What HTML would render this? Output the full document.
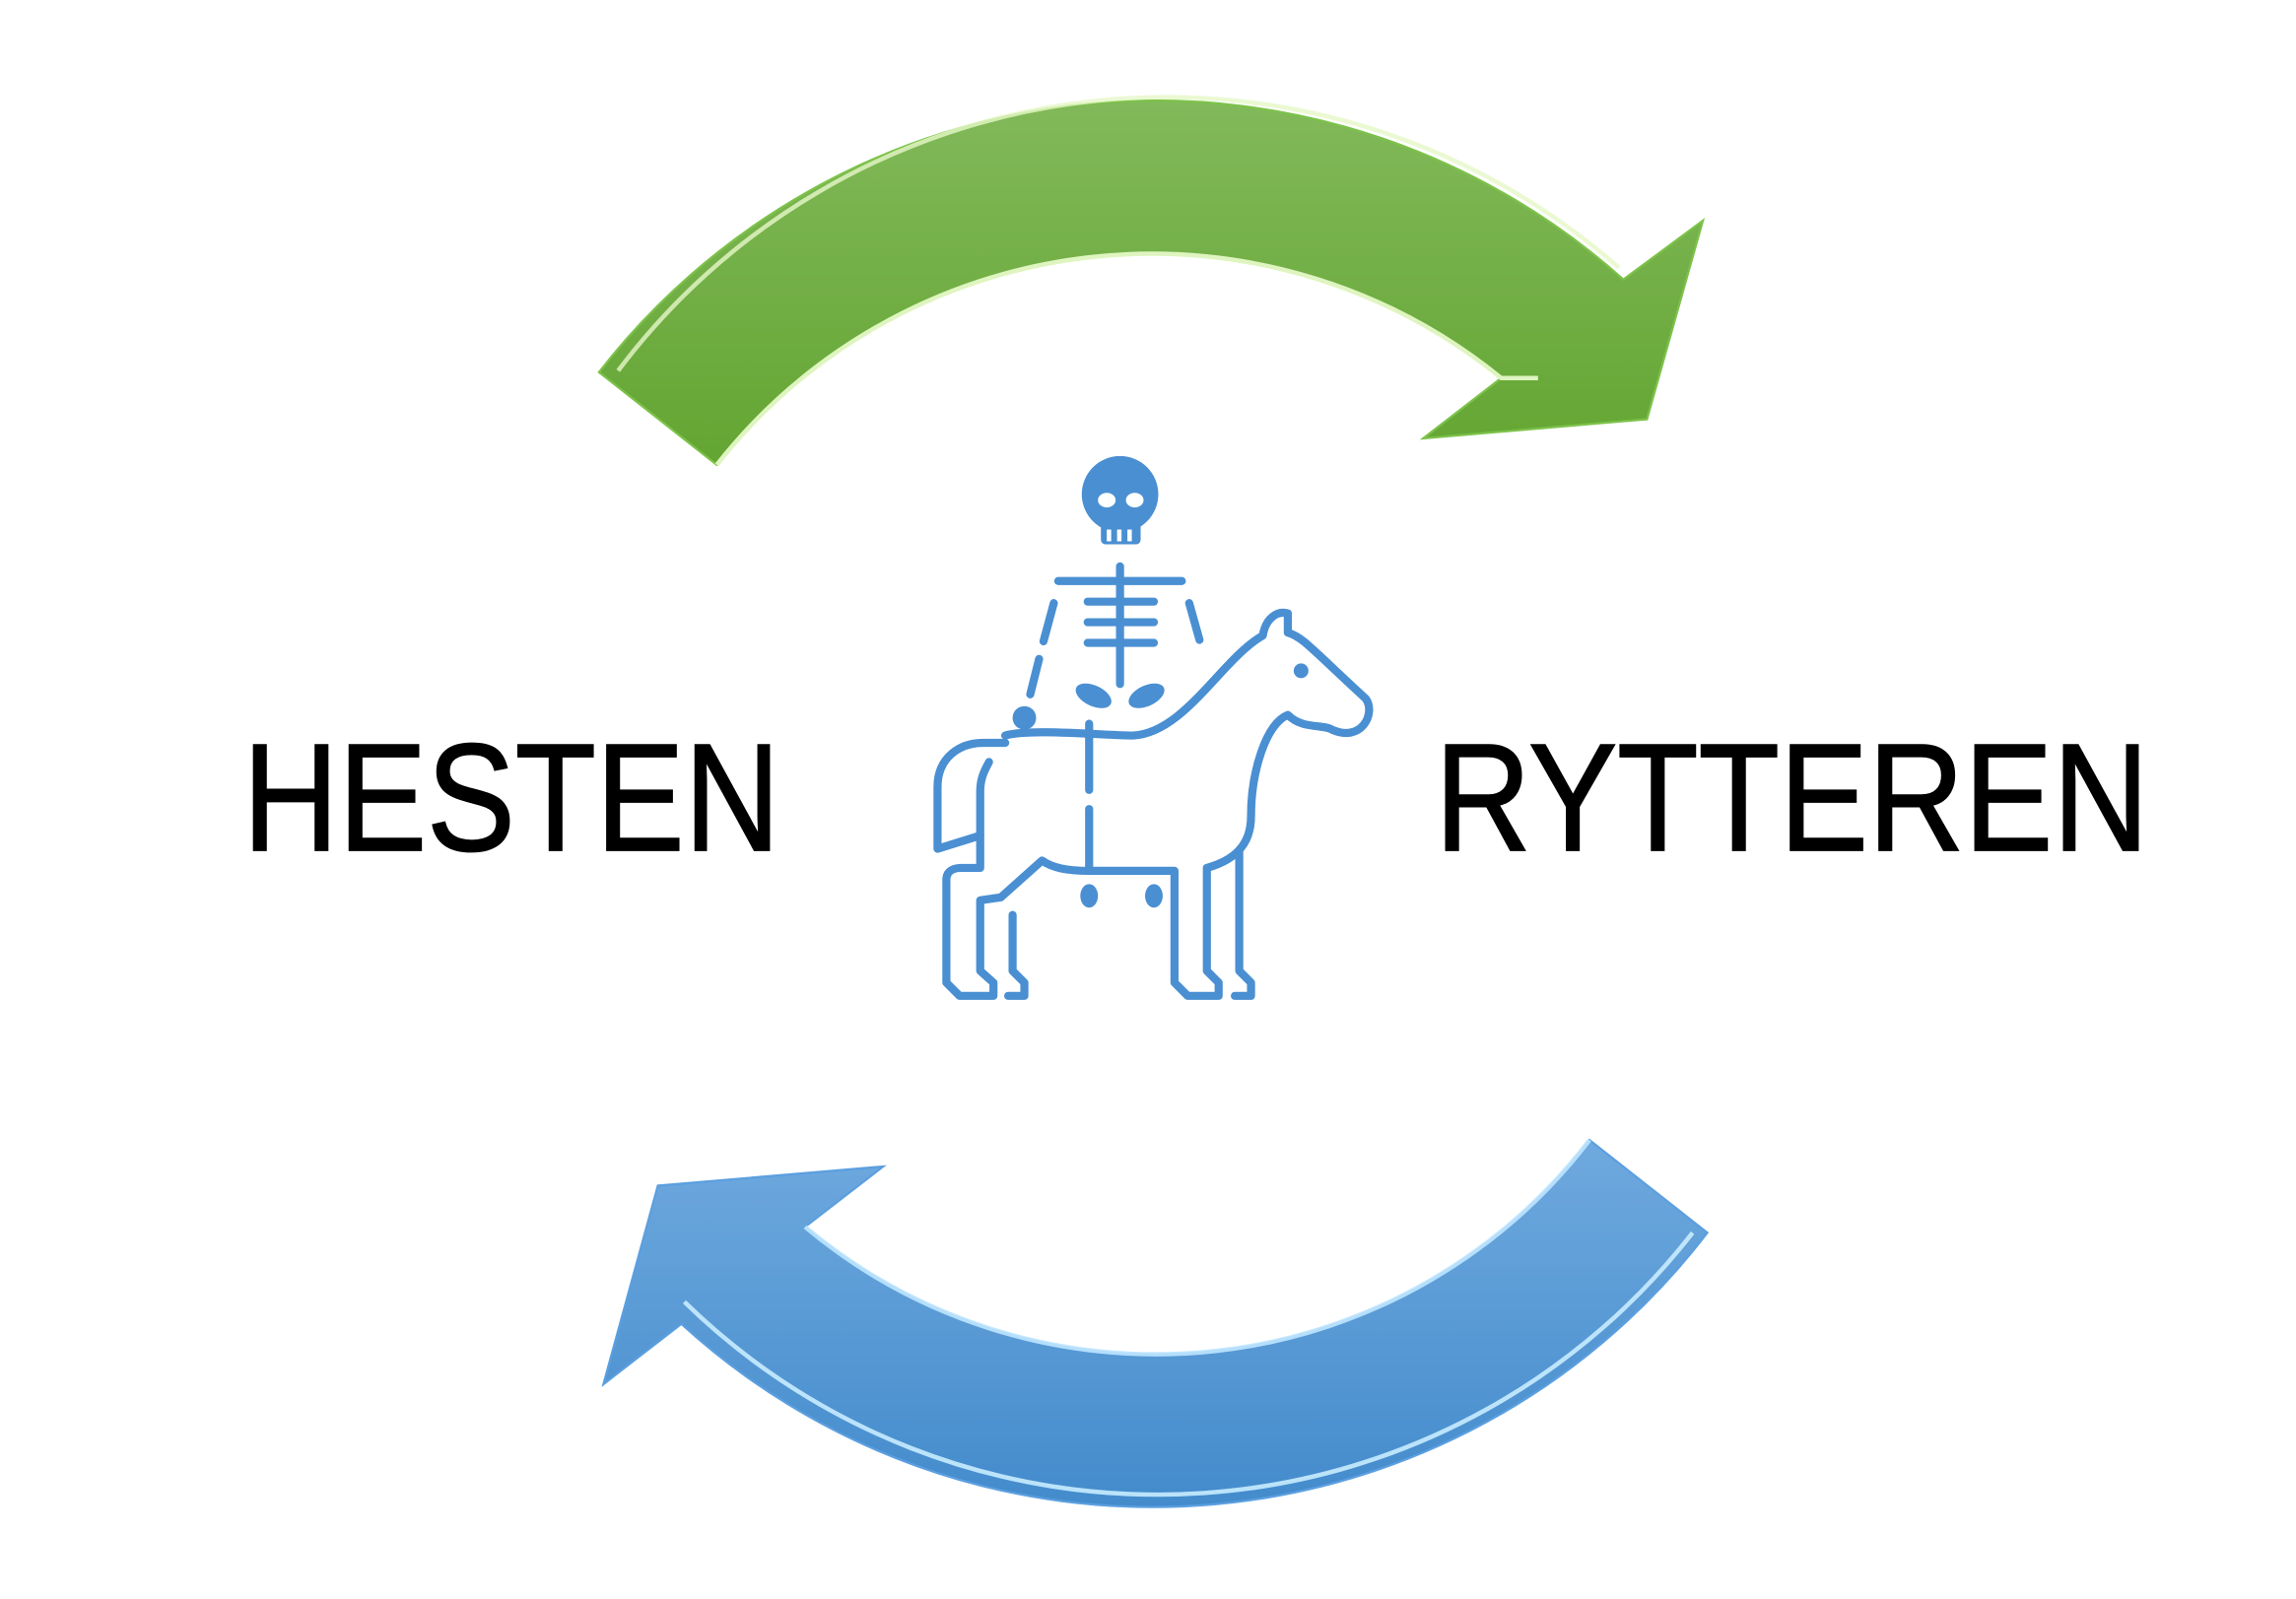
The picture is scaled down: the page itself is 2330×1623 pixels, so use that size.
<!DOCTYPE html>
<html><head><meta charset="utf-8"><style>html,body{margin:0;padding:0;background:#fff}svg{display:block}</style></head>
<body>
<svg width="2330" height="1623" viewBox="0 0 1560 1087" preserveAspectRatio="none" xmlns="http://www.w3.org/2000/svg">
<defs>
<linearGradient id="g" x1="0" y1="0" x2="0" y2="1">
<stop offset="0" stop-color="#82b95a"/><stop offset="1" stop-color="#63a532"/></linearGradient>
<linearGradient id="b" x1="0" y1="0" x2="0" y2="1">
<stop offset="0" stop-color="#6fa9de"/><stop offset="1" stop-color="#438bcc"/></linearGradient>
</defs>
<path d="M407,253 A478,478 0 0 1 1103,190 L1157,150 L1119,285 L967,298 L1020,257 A376,376 0 0 0 487,316 Z" fill="url(#g)" stroke="#7cc24a" stroke-width="1.5"/>
<path d="M420,252 A466,466 0 0 1 1100,182" fill="none" stroke="#e6f8c8" stroke-width="3" opacity="0.8"/>
<path d="M487,316 A376,376 0 0 1 1020,257 L1045,257" fill="none" stroke="#dff5c0" stroke-width="3"/>
<path d="M1160,838 A474,474 0 0 1 463,900 L410,941 L447,806 L600,793 L547,834 A371,371 0 0 0 1080,775 Z" fill="url(#b)" stroke="#5b9fe0" stroke-width="1.5"/>
<path d="M465,885 A460,460 0 0 0 1150,838" fill="none" stroke="#c8ecff" stroke-width="3" opacity="0.9"/>
<path d="M547,834 A371,371 0 0 0 1080,775" fill="none" stroke="#bfe6ff" stroke-width="3" opacity="0.9"/>
<g font-family="'Liberation Sans',sans-serif" font-size="104" fill="#000" stroke="#000" stroke-width="1.2">
<text x="165" y="578" textLength="365" lengthAdjust="spacingAndGlyphs">HESTEN</text>
<text x="975" y="578" textLength="485" lengthAdjust="spacingAndGlyphs">RYTTEREN</text>
</g>
<g fill="#4a8fd2" stroke="none">
<circle cx="761" cy="336" r="26"/>
<rect x="748" y="345" width="27" height="25" rx="3"/>
<circle cx="696" cy="488" r="8"/>
<ellipse cx="743" cy="473" rx="13" ry="7" transform="rotate(25 743 473)"/>
<ellipse cx="779" cy="473" rx="13" ry="7" transform="rotate(-25 779 473)"/>
<ellipse cx="740" cy="609" rx="6" ry="8"/>
<ellipse cx="784" cy="609" rx="6" ry="8"/>
<circle cx="884" cy="456" r="5"/>
</g>
<g fill="#fff"><ellipse cx="752" cy="340" rx="6" ry="5"/><ellipse cx="771" cy="340" rx="6" ry="5"/>
<rect x="752" y="360" width="3" height="8"/><rect x="759" y="360" width="3" height="8"/><rect x="766" y="360" width="3" height="8"/></g>
<g fill="none" stroke="#4a8fd2" stroke-width="5.5" stroke-linecap="round" stroke-linejoin="round">
<path d="M761,385 V465 M719,395 H803 M739,409 H784 M739,423 H784 M739,437 H784"/>
<path d="M716,410 L709,436 M706,448 L700,472 M808,410 L815,435"/>
<path d="M740,492 V537 M740,550 V590"/>
<path d="M683,500 C700,495 750,500 770,500 C805,498 830,448 858,432 C860,420 868,415 875,417 L875,430 C885,433 890,440 928,475 C935,485 925,505 905,496 C898,492 885,496 875,486 C860,492 850,525 850,555 C850,575 838,585 820,590 V660 L828,668 V677 H807 L798,668 V592 H740 C725,592 715,590 708,585 L680,610 L666,612 V660 L675,668 V677 H652 L643,668 V598 C643,592 648,590 653,590 H666 V568 L637,577 V535 C637,515 652,505 668,505 L683,505"/>
<path d="M666,568 V538 C666,528 670,522 672,518"/>
<path d="M688,622 V660 L696,668 V677 H685"/>
<path d="M842,578 V660 L850,668 V677 H839"/>
</g>
</svg>
</body></html>
